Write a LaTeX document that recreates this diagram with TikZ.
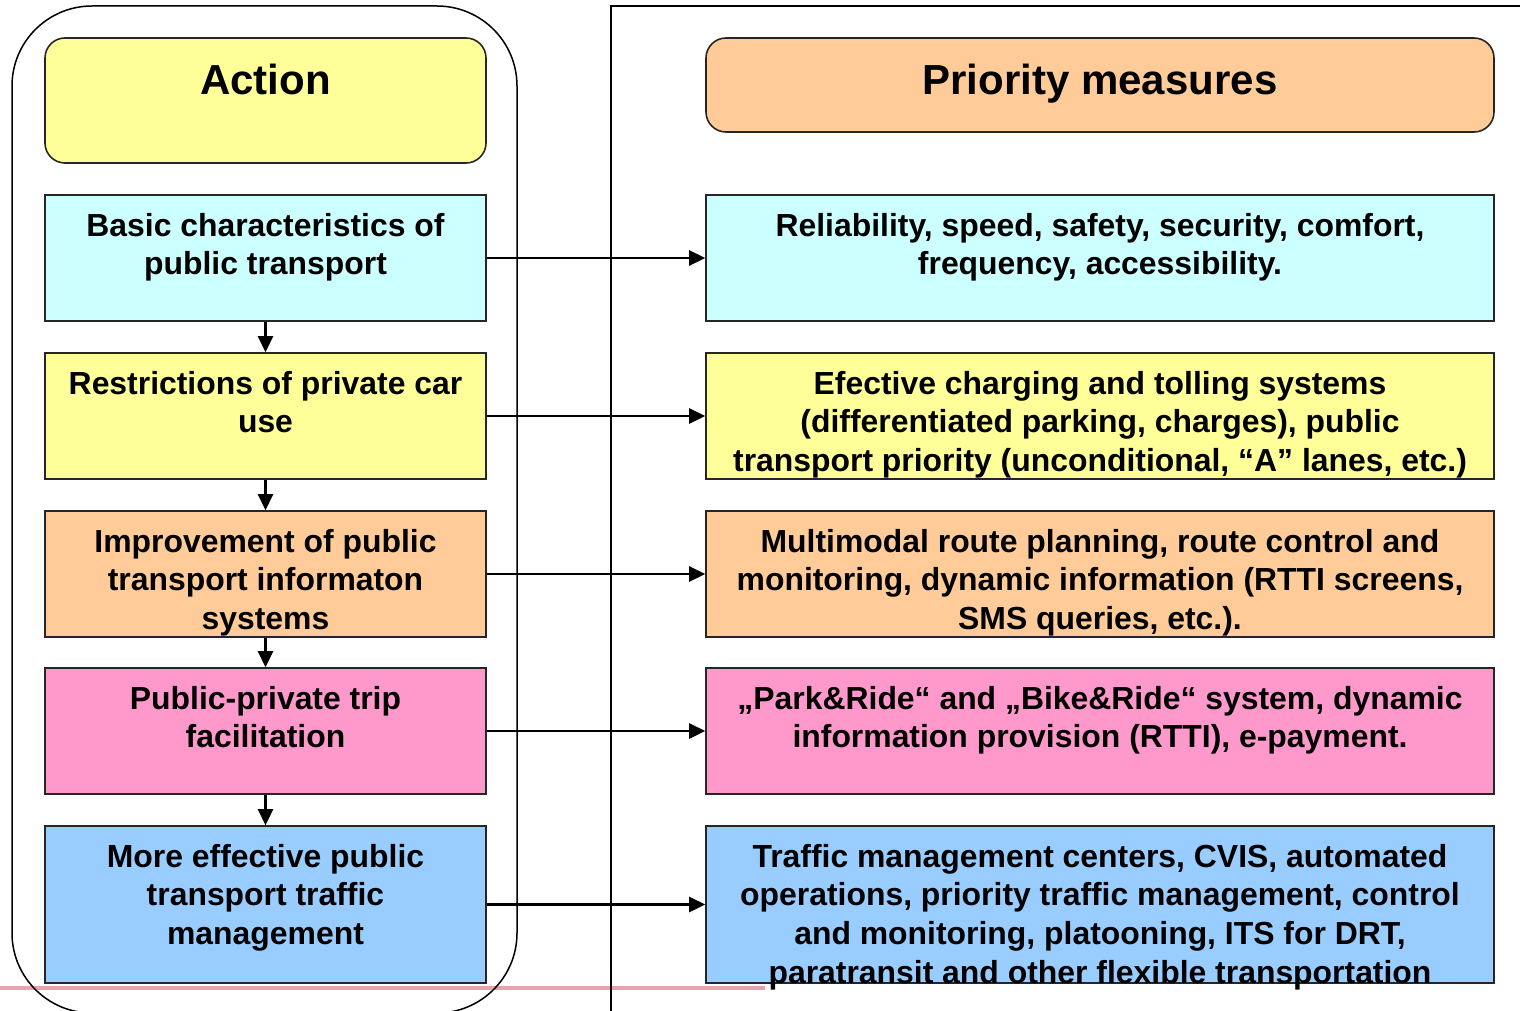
\documentclass[tikz,border=0pt]{standalone}
\usepackage{fontspec}
\setmainfont{Liberation Sans}
\usetikzlibrary{arrows.meta}
\definecolor{cyanbox}{HTML}{CCFFFF}
\definecolor{yellowbox}{HTML}{FFFF99}
\definecolor{orangebox}{HTML}{FFCC99}
\definecolor{pinkbox}{HTML}{FF99CC}
\definecolor{bluebox}{HTML}{99CCFF}
\definecolor{pinkrule}{HTML}{E9A3AC}
\tikzset{
	box/.style={draw=black!85,line width=1.6pt,inner sep=0pt},
	actbox/.style={box,minimum width=441pt,minimum height=126pt},
	prbox/.style={box,minimum width=788pt,minimum height=126pt},
	headbox/.style={box,rounded corners=20pt},
	txt/.style={anchor=north,align=center,inner sep=0pt,font=\fontsize{31.9}{38.9}\selectfont\bfseries},
	headtxt/.style={anchor=base,inner sep=0pt,font=\fontsize{42}{50}\selectfont\bfseries},
	conn/.style={line width=2.6pt,-{Triangle[length=16pt,width=15pt]}}
}
\begin{document}
\begin{tikzpicture}[line cap=butt,line join=miter,x=1pt,y=-1pt]
				\useasboundingbox (0,0) rectangle (1520,1011);
				\clip (0,0) rectangle (1520,1011);
				\draw [pinkrule,line width=3.2pt] (0,988) -- (765,988);
				\draw [line width=1.5pt,rounded corners=80pt] (12,6) rectangle (517,1013);
				\draw [line width=1.5pt] (611,1011) -- (611,6) -- (1520,6);
				% headers
				\node [headbox,fill=yellowbox,minimum width=441pt,minimum height=125pt] (acthead) at (265.5,100.5) {};
				\node [headbox,fill=orangebox,minimum width=788pt,minimum height=94pt] (prhead) at (1100,85) {};
				\node [headtxt] (actheadt) at (265.5,95) {Action};
				\node [headtxt] (prheadt) at (1100,95) {Priority measures};
				% actions
				\node [actbox,fill=cyanbox] (a1) at (265.5,258) {};
				\node [actbox,fill=yellowbox] (a2) at (265.5,416) {};
				\node [actbox,fill=orangebox] (a3) at (265.5,574) {};
				\node [actbox,fill=pinkbox] (a4) at (265.5,731) {};
				\node [actbox,fill=bluebox,minimum height=157pt] (a5) at (265.5,904.5) {};
				\node [txt] (a1t) at ([yshift=-18.5pt]a1.north) {Basic characteristics of\\public transport};
				\node [txt] (a2t) at ([yshift=-18.5pt]a2.north) {Restrictions of private car\\use};
				\node [txt] (a3t) at ([yshift=-18.5pt]a3.north) {Improvement of public\\transport informaton\\systems};
				\node [txt] (a4t) at ([yshift=-18.5pt]a4.north) {Public-private trip\\facilitation};
				\node [txt] (a5t) at ([yshift=-18.5pt]a5.north) {More effective public\\transport traffic\\management};
				% measures
				\node [prbox,fill=cyanbox] (p1) at (1100,258) {};
				\node [prbox,fill=yellowbox] (p2) at (1100,416) {};
				\node [prbox,fill=orangebox] (p3) at (1100,574) {};
				\node [prbox,fill=pinkbox] (p4) at (1100,731) {};
				\node [prbox,fill=bluebox,minimum height=157pt] (p5) at (1100,904.5) {};
				\node [txt] (p1t) at ([yshift=-18.5pt]p1.north) {Reliability, speed, safety, security, comfort,\\frequency, accessibility.};
				\node [txt] (p2t) at ([yshift=-18.5pt]p2.north) {Efective charging and tolling systems\\(differentiated parking, charges), public\\transport priority (unconditional, “A” lanes, etc.)};
				\node [txt] (p3t) at ([yshift=-18.5pt]p3.north) {Multimodal route planning, route control and\\monitoring, dynamic information (RTTI screens,\\SMS queries, etc.).};
				\node [txt] (p4t) at ([yshift=-18.5pt]p4.north) {„Park\&Ride“ and „Bike\&Ride“ system, dynamic\\information provision (RTTI), e-payment.};
				\node [txt] (p5t) at ([yshift=-18.5pt]p5.north) {Traffic management centers, CVIS, automated\\operations, priority traffic management, control\\and monitoring, platooning, ITS for DRT,\\paratransit and other flexible transportation};
				% connectors
				\draw [conn] (a1) -- (a2);
				\draw [conn] (a2) -- (a3);
				\draw [conn] (a3) -- (a4);
				\draw [conn] (a4) -- (a5);
				\draw [conn] (a1) -- (p1);
				\draw [conn] (a2) -- (p2);
				\draw [conn] (a3) -- (p3);
				\draw [conn] (a4) -- (p4);
				\draw [conn] (a5) -- (p5);
			\end{tikzpicture}
\end{document}
